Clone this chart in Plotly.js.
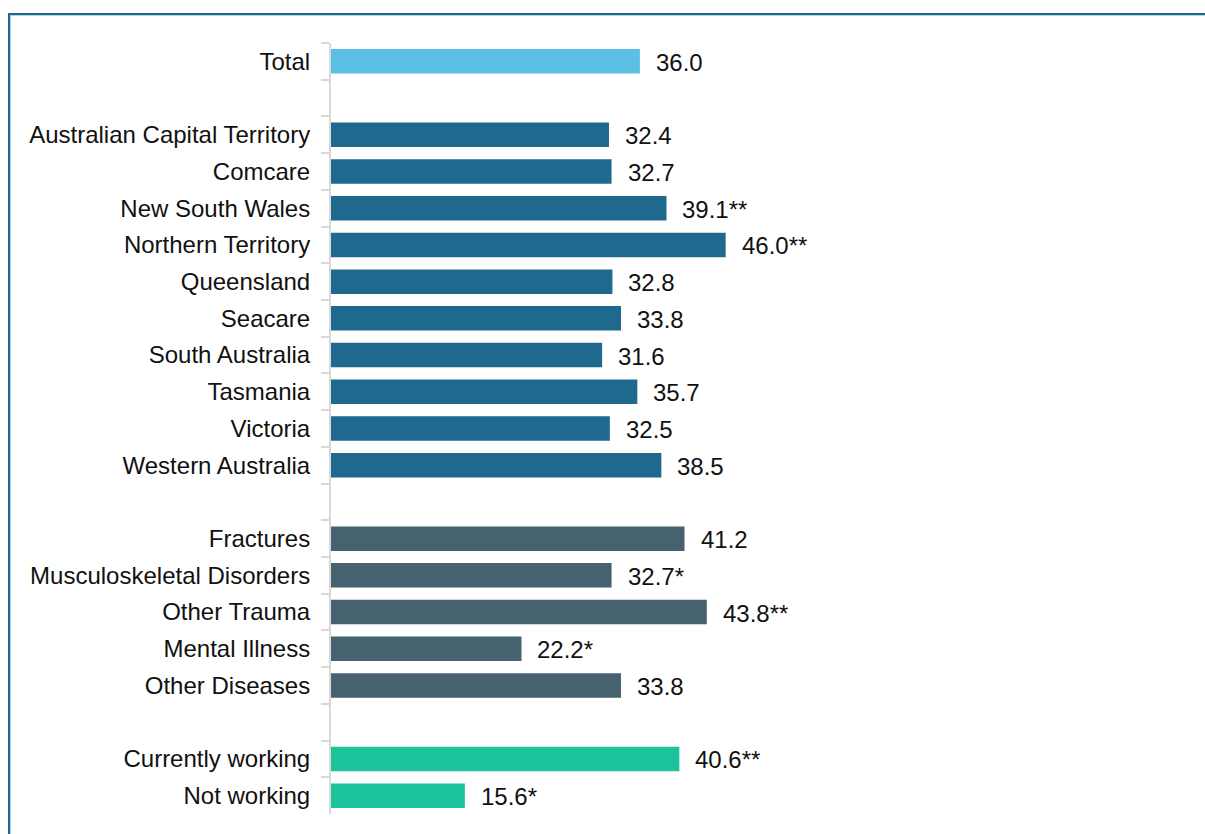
<!DOCTYPE html>
<html>
<head>
<meta charset="utf-8">
<script src="https://cdn.plot.ly/plotly-3.0.1.min.js"></script>
<style>
  html, body { margin: 0; padding: 0; background: #fff; }
  #wrap { position: relative; width: 1205px; height: 834px; overflow: hidden; }
  #chart { position: absolute; left: 0; top: 0; width: 1205px; height: 834px; }
  #frame {
    position: absolute; left: 8px; top: 13px; width: 1210px; height: 830px;
    border-left: 2px solid #23678d; border-top: 2px solid #23678d;
    box-shadow: inset 1px 1px 0 #b4d4e6; pointer-events: none;
  }
</style>
</head>
<body>
<div id="wrap">
  <div id="chart"></div>
  <div id="frame"></div>
</div>
<script>
// Categories top to bottom; blank entries are spacer rows between groups
const categories = ['Total', ' ', 'Australian Capital Territory', 'Comcare', 'New South Wales',
    'Northern Territory', 'Queensland', 'Seacare', 'South Australia', 'Tasmania', 'Victoria',
    'Western Australia', '  ', 'Fractures', 'Musculoskeletal Disorders', 'Other Trauma',
    'Mental Illness', 'Other Diseases', '   ', 'Currently working', 'Not working'];
const values = [36.0, null, 32.4, 32.7, 39.1, 46.0, 32.8, 33.8, 31.6, 35.7, 32.5, 38.5,
    null, 41.2, 32.7, 43.8, 22.2, 33.8, null, 40.6, 15.6];
const labels = ['36.0', '', '32.4', '32.7', '39.1**', '46.0**', '32.8', '33.8', '31.6', '35.7',
    '32.5', '38.5', '', '41.2', '32.7*', '43.8**', '22.2*', '33.8', '', '40.6**', '15.6*'];
const groups = ['total', '', 'scheme', 'scheme', 'scheme', 'scheme', 'scheme', 'scheme', 'scheme',
    'scheme', 'scheme', 'scheme', '', 'injury', 'injury', 'injury', 'injury', 'injury', '',
    'work', 'work'];

const groupColors = {
    total: '#5bbfe6',
    scheme: '#20698e',
    injury: '#46626f',
    work: '#1dc49b',
    '': '#ffffff'
};

const trace = {
    type: 'bar',
    orientation: 'h',
    y: categories,
    x: values,
    marker: { color: groups.map(g => groupColors[g]) },
    hoverinfo: 'x+y'
};

const annotations = categories
    .map((c, i) => ({ c, i }))
    .filter(d => values[d.i] !== null)
    .map(d => ({
        x: values[d.i],
        y: d.c,
        text: labels[d.i],
        showarrow: false,
        xanchor: 'left',
        yanchor: 'middle',
        xshift: 14,
        yshift: -1,
        font: { family: 'Liberation Sans, Arial, sans-serif', size: 24, color: '#111' }
    }));

const layout = {
    width: 1205,
    height: 834,
    margin: { l: 331, r: 445, t: 42.6, b: 19.5 },
    paper_bgcolor: 'rgba(0,0,0,0)',
    plot_bgcolor: 'rgba(0,0,0,0)',
    bargap: 0.333,
    showlegend: false,
    font: { family: 'Liberation Sans, Arial, sans-serif', size: 24, color: '#111' },
    xaxis: {
        range: [0, 50],
        visible: false,
        fixedrange: true
    },
    yaxis: {
        type: 'category',
        categoryorder: 'array',
        categoryarray: categories,
        range: [20.5, -0.5],
        showline: true,
        linecolor: '#d9d9d9',
        linewidth: 2,
        ticks: 'outside',
        tickson: 'boundaries',
        ticklen: 8,
        tickwidth: 2,
        tickcolor: '#d9d9d9',
        ticklabelstandoff: 14,
        showgrid: false,
        zeroline: false,
        fixedrange: true,
        tickfont: { family: 'Liberation Sans, Arial, sans-serif', size: 24, color: '#111' }
    },
    annotations: annotations
};

Plotly.newPlot('chart', [trace], layout, { displayModeBar: false, staticPlot: true });
</script>
</body>
</html>
